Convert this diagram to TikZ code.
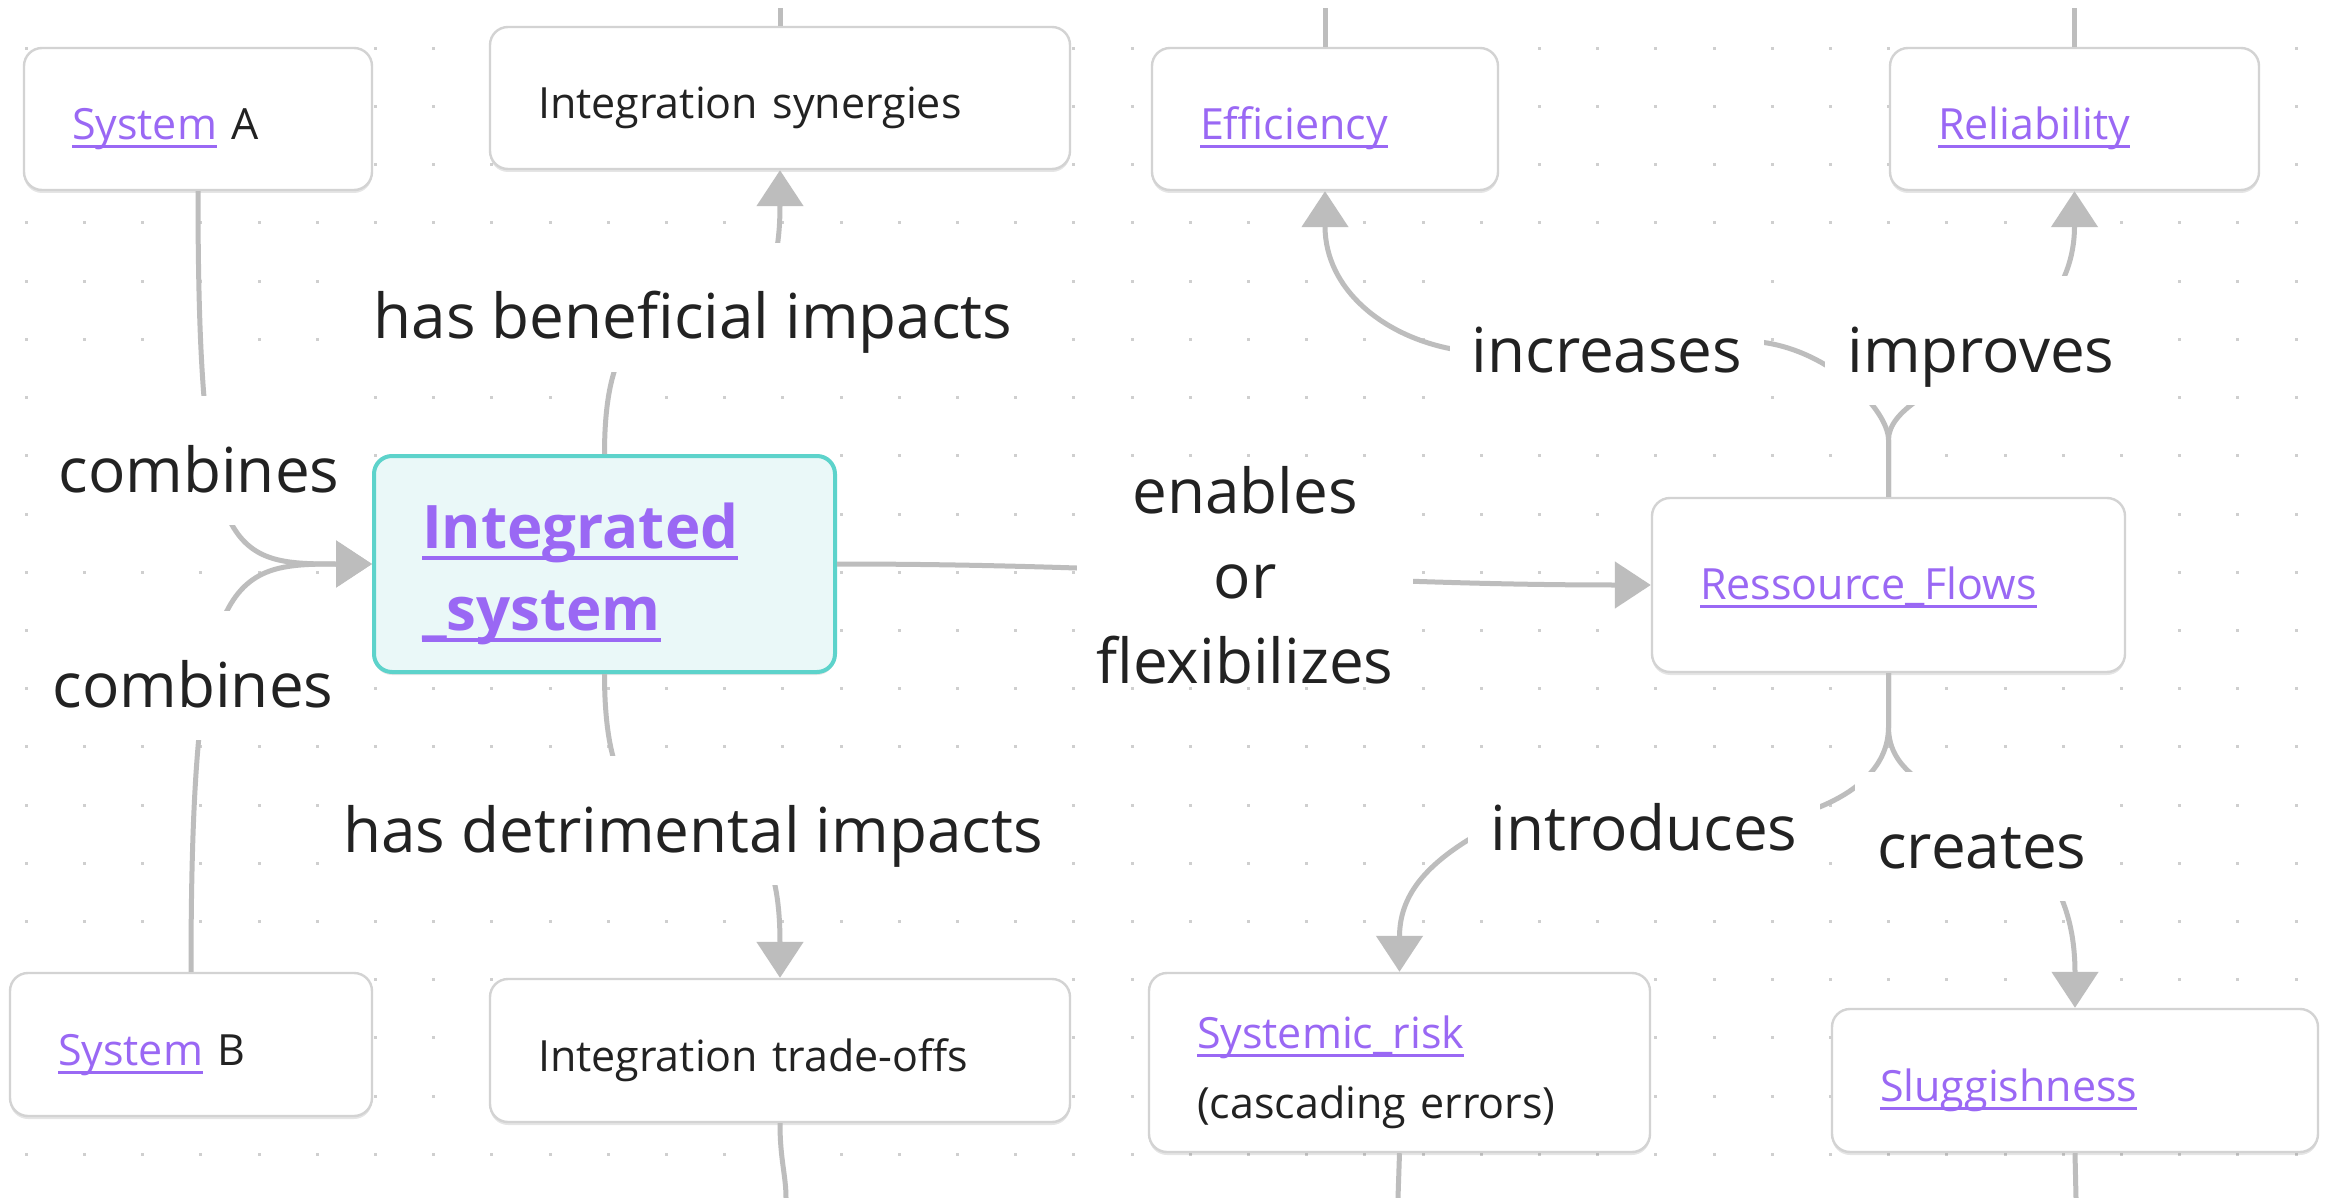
\documentclass[tikz,border=0pt]{standalone}
\usepackage{fontspec}
\setmainfont{Open Sans}
\usetikzlibrary{arrows.meta,shadows}
\definecolor{linkc}{HTML}{9A68F4}
\definecolor{connc}{HTML}{BDBDBD}
\definecolor{txt}{HTML}{222222}
\definecolor{boxb}{HTML}{D3D3D3}
\definecolor{tealb}{HTML}{5DD3CB}
\definecolor{tealf}{HTML}{EAF8F8}
\definecolor{dotc}{HTML}{CFCFCF}
\newcommand\lblfont{\fontsize{31pt}{42.5pt}\selectfont}
\newcommand\boxfont{\fontsize{21.5pt}{35pt}\selectfont}
\newcommand\intfont{\fontsize{30pt}{41pt}\selectfont\bfseries}
\newcommand\lstr{\rule[-16.5pt]{0pt}{64.5pt}}
\newcommand\bstr{\rule{0pt}{26pt}}
\newcommand\rstr{\rule{0pt}{19pt}}
\newcommand\istr{\rule{0pt}{33pt}}
\newcommand\lnk[1]{\leavevmode{\color{linkc}\setbox0=\hbox{#1}\rlap{\rule[-0.19em]{\wd0}{1.3pt}}\box0}}
\newcommand\lnkb[1]{\leavevmode{\color{linkc}\setbox0=\hbox{#1}\rlap{\rule[-0.19em]{\wd0}{2pt}}\box0}}
\tikzset{
  conn/.style={draw=connc, line width=2.5pt},
  arr/.style={-{Triangle[length=18pt,width=23pt]}},
  cbox/.style={draw=boxb, line width=1.2pt, fill=white, rounded corners=9pt,
    inner xsep=24pt, inner ysep=0pt, align=left, font=\boxfont, text=txt,
    drop shadow={shadow xshift=0pt, shadow yshift=-1.5pt, opacity=0.10, fill=black}},
  lbl/.style={fill=white, inner xsep=11pt, inner ysep=0pt, font=\lblfont, text=txt},
}
\begin{document}
\begin{tikzpicture}[x=0.5pt,y=-0.5pt]
\useasboundingbox (0,0) rectangle (2330,1198);
\fill[white] (0,0) rectangle (2330,1198);
\foreach \i in {0,...,39} {
  \foreach \j in {0,...,19} {
    \fill[dotc] ({26.2+58.2*\i-1.5},{48.4+58.2*\j-1.5}) rectangle ++(3,3);
  }
}
% boxes
\node[cbox, minimum height=71pt, text width=126pt] (sysA) at (198,119) {\bstr\lnk{System} A};
\node[cbox, minimum height=71pt, text width=242pt] (syn) at (780,98) {\bstr Integration synergies};
\node[cbox, minimum height=71pt, text width=125pt] (eff) at (1325,119) {\bstr\lnk{Efficiency}};
\node[cbox, minimum height=71pt, text width=136.5pt] (rel) at (2074.5,119) {\bstr\lnk{Reliability}};
\node[cbox, draw=tealb, fill=tealf, line width=2pt, minimum height=108pt, text width=182.5pt, font=\intfont] (intsys) at (604.5,564) {\istr\lnkb{Integrated}\\\lnkb{\_system}};
\node[cbox, minimum height=87pt, text width=188.5pt] (rf) at (1888.5,585) {\rstr\lnk{Ressource\_Flows}};
\node[cbox, minimum height=71.5pt, text width=133pt] (sysB) at (191,1044.5) {\bstr\lnk{System} B};
\node[cbox, minimum height=71.5pt, text width=242pt] (trade) at (780,1050.5) {\bstr Integration trade-offs};
\node[cbox, minimum height=89.5pt, text width=202.5pt] (risk) at (1399.5,1062.5) {\bstr\lnk{Systemic\_risk}\\(cascading errors)};
\node[cbox, minimum height=71.5pt, text width=195pt] (slug) at (2075,1080.5) {\bstr\lnk{Sluggishness}};
% free ends
\coordinate (synT) at (780,8);
\coordinate (effT) at (1325,8);
\coordinate (relT) at (2074.5,8);
\coordinate (tradeB) at (786,1198);
\coordinate (riskB) at (1398,1198);
\coordinate (slugB) at (2076,1198);
\draw[conn] (syn.north) -- (synT);
\draw[conn] (eff.north) -- (effT);
\draw[conn] (rel.north) -- (relT);
\draw[conn] (trade.south) .. controls (780,1160) and (786,1175) .. (tradeB);
\draw[conn] (risk.south) -- (riskB);
\draw[conn] (slug.south) -- (slugB);
% edges
\draw[conn,arr] (sysA.south) .. controls (198,560) and (230,564) .. (intsys.west);
\draw[conn,arr] (sysB.north) .. controls (191,570) and (230,564) .. (intsys.west);
\draw[conn,arr] (intsys.north) .. controls (604.5,200) and (780,420) .. (syn.south);
\draw[conn,arr] (intsys.south) .. controls (604.5,942) and (780,709) .. (trade.north);
\draw[conn,arr] (intsys.east) .. controls (1150,564) and (1350,585) .. (rf.west);
\draw[conn,arr] (rf.north) -- (1888.5,440) .. controls (1888.5,410) and (1830,350) .. (1760,342)
   .. controls (1690,334) and (1520,362) .. (1452,349)
   .. controls (1384,336) and (1325,290) .. (eff.south);
\draw[conn,arr] (rf.north) -- (1888.5,440) .. controls (1888.5,380) and (2074.5,360) .. (rel.south);
\draw[conn,arr] (rf.south) -- (1888.5,727) .. controls (1888.5,770) and (1850,795) .. (1817,808)
   .. controls (1760,830) and (1520,808) .. (1468,840)
   .. controls (1420,870) and (1399.5,900) .. (risk.north);
\draw[conn,arr] (rf.south) -- (1888.5,727) .. controls (1888.5,820) and (2075,790) .. (slug.north);
% labels
\node[lbl,anchor=base] (cb1) at (199,492) {\lstr combines};
\node[lbl,anchor=base] (cb2) at (193,707) {\lstr combines};
\node[lbl,anchor=base] (ben) at (693,339) {\lstr has beneficial impacts};
\node[lbl,anchor=base] (det) at (693,852) {\lstr has detrimental impacts};
\node[lbl,align=center,inner xsep=10pt] (enf) at (1245,575) {enables\\or\\flexibilizes};
\node[lbl,anchor=base] (inc) at (1607,372) {\lstr increases};
\node[lbl,anchor=base] (imp) at (1981,372) {\lstr improves};
\node[lbl,anchor=base] (itr) at (1644,850) {\lstr introduces};
\node[lbl,anchor=base] (cre) at (1982,868) {\lstr creates};
\end{tikzpicture}
\end{document}
